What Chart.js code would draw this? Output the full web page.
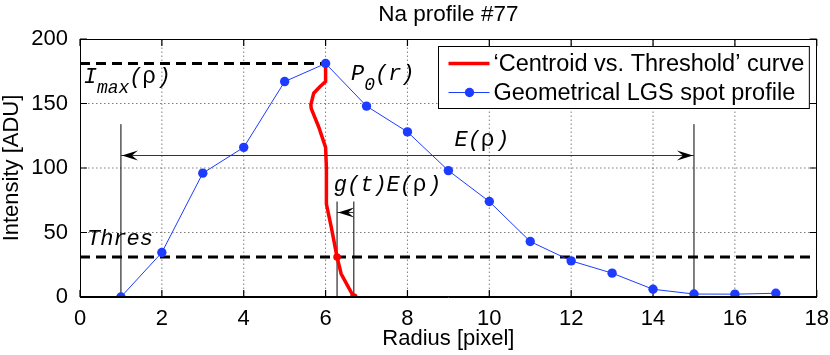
<!DOCTYPE html>
<html>
<head>
<meta charset="utf-8">
<title>Na profile #77</title>
<script src="https://cdn.jsdelivr.net/npm/chart.js@4.4.1/dist/chart.umd.min.js"></script>
<style>
  html, body { margin: 0; padding: 0; background: #fff; }
  #wrap { position: relative; width: 830px; height: 355px; }
  #box { position: absolute; border: 1px solid #000; box-sizing: border-box; pointer-events: none; }
</style>
</head>
<body>
<div id="wrap"><canvas id="profileChart"></canvas><div id="box"></div></div>
<script>
// Geometrical LGS spot profile
const radius = [1, 2, 3, 4, 5, 6, 7, 8, 9, 10, 11, 12, 13, 14, 15, 16, 17];
const intensity = [0, 34.5, 96, 116, 167, 181, 148, 128, 98, 74, 43, 28, 18.5, 6, 2.3, 2.2, 2.9];

// 'Centroid vs. Threshold' curve (centroid radius for each threshold level)
const centroidRadius = [6.69, 6.55, 6.38, 6.28, 6.14, 6.02, 6.02, 6.0, 5.83, 5.65, 5.64, 5.71, 5.86, 6.0, 6.0];
const centroidLevel  = [0,    8,    18,   31,   54,   72,   100,  116,  132,  146,  149,  158,  163,  167,  181];
const markedLevels = [0, 31];

// annotation levels
const thresholdLevel = 31;
const peakLevel = 181;
const peakRadius = 6;
const energyLevel = 110;
const energyStart = 1;
const energyEnd = 15;
const energyTop = 134;
const gLevel = 66;
const gTop = 74;

const xTicks = [0, 2, 4, 6, 8, 10, 12, 14, 16, 18];
const yTicks = [0, 50, 100, 150, 200];

const sans = '"Liberation Sans", Arial, Helvetica, sans-serif';
const mono = '"Liberation Mono", "Courier New", monospace';
const blue = 'rgb(30, 60, 255)';
const red = '#ff0000';

const pts = (xs, ys) => xs.map((v, i) => ({ x: v, y: ys[i] }));
const gLeft = centroidRadius[centroidLevel.indexOf(thresholdLevel)];
const gRight = centroidRadius[0];

// inner tick marks and dotted grid, built from the tick arrays
const xMin = xTicks[0], xMax = xTicks[xTicks.length - 1];
const yMin = yTicks[0], yMax = yTicks[yTicks.length - 1];
const tx = (xMax - xMin) * 0.0095, ty = (yMax - yMin) * 0.027;

const gridData = [];
xTicks.slice(1, -1).forEach(v => gridData.push({ x: v, y: yMin }, { x: v, y: yMax }, { x: v, y: null }));
yTicks.slice(1, -1).forEach(v => gridData.push({ x: xMin, y: v }, { x: xMax, y: v }, { x: xMax, y: null }));
const tickData = [];
xTicks.forEach(v => tickData.push(
  { x: v, y: yMin }, { x: v, y: yMin + ty }, { x: v, y: null },
  { x: v, y: yMax - ty }, { x: v, y: yMax }, { x: v, y: null }));
yTicks.forEach(v => tickData.push(
  { x: xMin, y: v }, { x: xMin + tx, y: v }, { x: xMin, y: null },
  { x: xMax - tx, y: v }, { x: xMax, y: v }, { x: xMax, y: null }));

function lineSet(data, width, dash, color) {
  return {
    data: data, showLine: true, borderColor: color || '#000', borderWidth: width,
    borderDash: dash || [], pointRadius: 0, fill: false, spanGaps: false, clip: false
  };
}

function arrowHead(ctx, x, y, dir) {
  ctx.beginPath();
  ctx.moveTo(x, y);
  ctx.lineTo(x - dir * 16, y - 5);
  ctx.lineTo(x - dir * 10, y);
  ctx.lineTo(x - dir * 16, y + 5);
  ctx.closePath();
  ctx.fill();
}

// arrows, labels, title and legend
const notes = {
  id: 'notes',
  afterDraw(chart) {
    const { ctx, chartArea: a, scales: { x, y } } = chart;
    ctx.save();

    // E(rho) arrow
    const ey = Math.round(y.getPixelForValue(energyLevel)) + 0.5;
    const ex1 = x.getPixelForValue(energyStart), ex2 = x.getPixelForValue(energyEnd);
    ctx.strokeStyle = '#333';
    ctx.fillStyle = '#000';
    ctx.lineWidth = 1;
    ctx.beginPath(); ctx.moveTo(ex1, ey); ctx.lineTo(ex2, ey); ctx.stroke();
    arrowHead(ctx, ex1 + 1, ey, -1);
    arrowHead(ctx, ex2 - 1, ey, 1);

    // g(t)E(rho) arrow
    const gy = Math.round(y.getPixelForValue(gLevel)) + 0.5;
    const gx1 = x.getPixelForValue(gRight), gx2 = x.getPixelForValue(gLeft);
    ctx.beginPath(); ctx.moveTo(gx1, gy); ctx.lineTo(gx2, gy); ctx.stroke();
    arrowHead(ctx, gx2 + 1, gy, -1);

    // math labels: [text, kind] with kind 's' = subscript, 'g' = upright greek
    ctx.fillStyle = '#000';
    ctx.textBaseline = 'alphabetic';
    ctx.textAlign = 'left';
    const fonts = {
      n: 'italic 22px ' + mono,
      s: 'italic 18px ' + mono,
      g: '23px ' + sans
    };
    const label = (parts, vx, vy) => {
      let px = x.getPixelForValue(vx);
      const py = y.getPixelForValue(vy);
      parts.forEach(([t, kind]) => {
        const k = kind || 'n';
        ctx.font = fonts[k];
        ctx.fillText(t, px, py + (k === 's' ? 10 : 0));
        px += ctx.measureText(t).width + (k === 'g' ? 2 : 0);
      });
    };
    label([['I'], ['max', 's'], ['('], ['\u03C1', 'g'], [')']], 0.09, 166);
    label([['P'], ['0', 's'], ['(r)']], 6.62, 168);
    label([['E('], ['\u03C1', 'g'], [')']], 9.15, 117);
    label([['g(t)E('], ['\u03C1', 'g'], [')']], 6.2, 82);
    label([['Thres']], 0.17, 40);

    // title
    ctx.font = '22.5px ' + sans;
    ctx.textAlign = 'center';
    ctx.fillText('Na profile #77', (a.left + a.right) / 2, 21);

    // legend
    ctx.font = '23.5px ' + sans;
    ctx.textAlign = 'left';
    ctx.textBaseline = 'middle';
    const items = [
      { text: '\u2018Centroid vs. Threshold\u2019 curve', color: red, width: 3.5, marker: false },
      { text: 'Geometrical LGS spot profile', color: blue, width: 1, marker: true }
    ];
    const tw = Math.max(...items.map(it => ctx.measureText(it.text).width));
    const bw = 55 + tw + 5, bh = 62;
    const bx = Math.round(a.right - 8 - bw) + 0.5, by = a.top + 7.5;
    ctx.fillStyle = '#fff';
    ctx.fillRect(bx, by, bw, bh);
    ctx.strokeStyle = '#000';
    ctx.lineWidth = 1;
    ctx.strokeRect(bx, by, bw, bh);
    items.forEach((it, i) => {
      const ly = by + 17 + i * 29;
      ctx.strokeStyle = it.color;
      ctx.lineWidth = it.width;
      ctx.beginPath(); ctx.moveTo(bx + 10, ly); ctx.lineTo(bx + 51, ly); ctx.stroke();
      if (it.marker) {
        ctx.fillStyle = it.color;
        ctx.beginPath(); ctx.arc(bx + 31, ly, 4.7, 0, Math.PI * 2); ctx.fill();
      }
      ctx.fillStyle = '#000';
      ctx.fillText(it.text, bx + 55, ly + 1);
    });
    ctx.restore();

    // axis box as an overlay aligned to the chart area
    const box = document.getElementById('box');
    box.style.left = Math.round(a.left) + 'px';
    box.style.top = Math.round(a.top) + 'px';
    box.style.width = Math.round(a.right - a.left) + 'px';
    box.style.height = Math.round(a.bottom - a.top) + 'px';
  }
};

new Chart(document.getElementById('profileChart'), {
  type: 'scatter',
  data: {
    datasets: [
      {
        label: 'Geometrical LGS spot profile',
        data: pts(radius, intensity),
        showLine: true, borderColor: blue, borderWidth: 1,
        pointRadius: 4.7, pointBackgroundColor: blue, pointBorderWidth: 0
      },
      {
        label: '\u2018Centroid vs. Threshold\u2019 curve',
        data: pts(centroidRadius, centroidLevel),
        showLine: true, borderColor: red, borderWidth: 3.5,
        pointRadius: centroidLevel.map(v => markedLevels.includes(v) ? 3.8 : 0),
        pointBackgroundColor: red, pointBorderWidth: 0
      },
      lineSet(pts([0, 18], [thresholdLevel, thresholdLevel]), 3, [10, 6]),
      lineSet(pts([0, peakRadius], [peakLevel, peakLevel]), 3, [10, 6]),
      lineSet(pts([energyStart, energyStart], [0, energyTop]), 1),
      lineSet(pts([energyEnd, energyEnd], [0, energyTop]), 1),
      lineSet(pts([gLeft, gLeft], [0, gTop]), 1),
      lineSet(pts([gRight, gRight], [0, gTop]), 1),
      lineSet(tickData, 1.2),
      lineSet(gridData, 1, [1.5, 2.5], 'rgba(0,0,0,0.5)')
    ]
  },
  options: {
    responsive: true,
    maintainAspectRatio: false,
    animation: false,
    events: [],
    layout: { padding: { top: 39, right: 13, left: 0, bottom: 0 } },
    plugins: { legend: { display: false }, tooltip: { enabled: false } },
    scales: {
      x: {
        type: 'linear', min: 0, max: 18,
        afterBuildTicks: s => { s.ticks = xTicks.map(v => ({ value: v })); },
        afterFit: s => { s.height = 58; },
        grid: { display: false },
        border: { display: true, color: '#000', width: 1 },
        ticks: { color: '#000', padding: 1, font: { family: sans, size: 22 } },
        title: {
          display: true, text: 'Radius [pixel]', color: '#000',
          font: { family: sans, size: 22, lineHeight: 1.2 }, padding: { top: 0, bottom: 3 }
        }
      },
      y: {
        type: 'linear', min: 0, max: 200,
        afterBuildTicks: s => { s.ticks = yTicks.map(v => ({ value: v })); },
        afterFit: s => { s.width = 80; },
        grid: { display: false },
        border: { display: true, color: '#000', width: 1 },
        ticks: { color: '#000', padding: 4, font: { family: sans, size: 22 } },
        title: {
          display: true, text: 'Intensity [ADU]', color: '#000',
          font: { family: sans, size: 22, lineHeight: 1.1 }, padding: { top: 0, bottom: 0 }
        }
      }
    }
  },
  plugins: [notes]
});
</script>
</body>
</html>
